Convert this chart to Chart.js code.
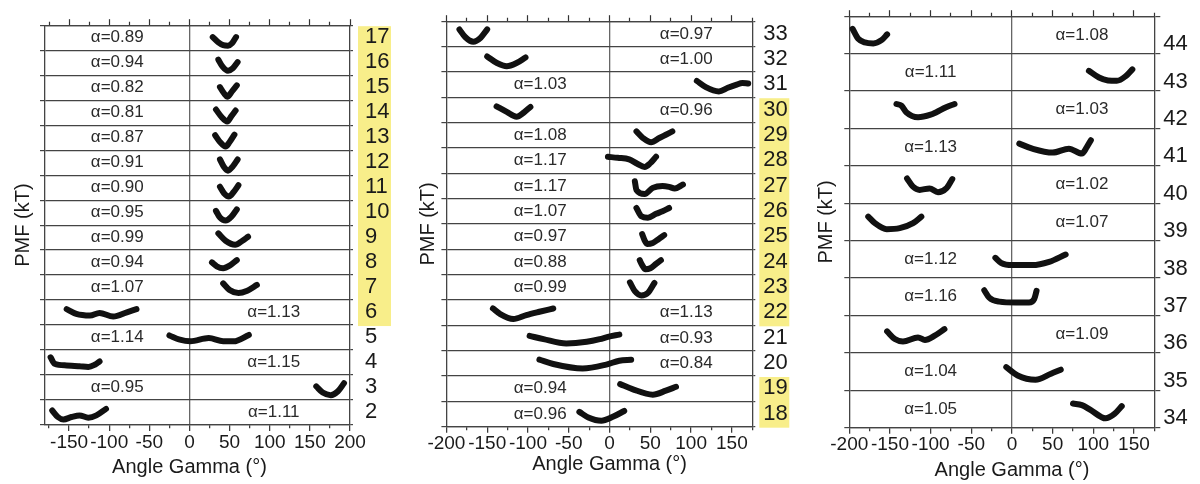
<!DOCTYPE html>
<html lang="en">
<head>
<meta charset="UTF-8">
<title>PMF vs Angle Gamma</title>
<script src="https://cdn.jsdelivr.net/npm/chart.js"></script>
<style>
  body { margin: 0; background: #fff; }
  .wrap { position: relative; width: 1200px; height: 484px; }
  .panel { position: absolute; top: 0; width: 400px; height: 484px; }
</style>
</head>
<body>
<div class="wrap">
  <div class="panel" style="left:0"><canvas id="p1"></canvas></div>
  <div class="panel" style="left:400px"><canvas id="p2"></canvas></div>
  <div class="panel" style="left:800px"><canvas id="p3"></canvas></div>
</div>
<script>
// rows are listed top -> bottom; curves are [angle (deg), PMF (kT)] above each row's baseline
const rows1 = [17, 16, 15, 14, 13, 12, 11, 10, 9, 8, 7, 6, 5, 4, 3, 2];
const alpha1 = [0.89, 0.94, 0.82, 0.81, 0.87, 0.91, 0.90, 0.95, 0.99, 0.94, 1.07, 1.13, 1.14, 1.15, 0.95, 1.11];
const side1 = ['L','L','L','L','L','L','L','L','L','L','L','R','L','R','L','R'];
const marked1 = [17, 16, 15, 14, 13, 12, 11, 10, 9, 8, 7, 6];
const curves1 = [
  [[29,1.05],[36,0.62],[42,0.40],[48,0.36],[53,0.55],[58,1.05]],
  [[36,1.24],[41,0.70],[48,0.35],[54,0.55],[60,1.04]],
  [[38,1.05],[43,0.55],[47,0.28],[53,0.70],[59,1.18]],
  [[33,1.25],[40,0.65],[47,0.29],[52,0.70],[57.5,1.17]],
  [[32,1.19],[38,0.65],[45,0.29],[50,0.65],[56,1.24]],
  [[38,1.25],[43,0.65],[48,0.36],[54,0.70],[60,1.25]],
  [[38,1.07],[43,0.55],[49,0.29],[55,0.65],[61,1.19]],
  [[33,1.14],[38,0.60],[45,0.36],[52,0.65],[59,1.26]],
  [[36,1.33],[45,0.75],[57,0.43],[66,0.75],[73,1.07]],
  [[28,1.01],[34,0.70],[42,0.55],[50,0.75],[59,1.20]],
  [[42,1.34],[50,0.80],[61,0.56],[72,0.75],[84,1.21]],
  [[-153,1.27],[-141,0.89],[-124,0.76],[-112,0.97],[-95,0.68],[-78,1.02],[-66,1.27]],
  [[-25,1.17],[-12,0.83],[1,0.70],[24,0.96],[42,0.70],[55,0.70],[74,1.21]],
  [[-173,1.41],[-168,0.90],[-153,0.77],[-137,0.70],[-126,0.64],[-118,0.82],[-112,1.08]],
  [[158,1.09],[166,0.60],[176,0.39],[185,0.70],[192.5,1.34]],
  [[-171,1.16],[-164,0.64],[-157,0.44],[-147,0.64],[-137,0.77],[-126,0.59],[-116,0.77],[-104,1.29]]
];

const rows2 = [33, 32, 31, 30, 29, 28, 27, 26, 25, 24, 23, 22, 21, 20, 19, 18];
const alpha2 = [0.97, 1.00, 1.03, 0.96, 1.08, 1.17, 1.17, 1.07, 0.97, 0.88, 0.99, 1.13, 0.93, 0.84, 0.94, 0.96];
const side2 = ['R','R','L','R','L','L','L','L','L','L','L','R','R','R','L','L'];
const marked2 = [30, 29, 28, 27, 26, 25, 24, 23, 22, 19, 18];
const curves2 = [
  [[-184,1.35],[-177,0.75],[-167,0.38],[-158,0.70],[-150,1.35]],
  [[-150,1.22],[-138,0.70],[-126,0.45],[-114,0.70],[-103,1.14]],
  [[107,1.29],[118,0.80],[134,0.46],[145,0.75],[155,0.98],[163,1.12],[170,1.08]],
  [[-138.5,1.28],[-126,0.84],[-114,0.46],[-105,0.80],[-97,1.23]],
  [[33,1.30],[41,0.78],[51,0.45],[61,0.78],[69,1.04],[77,1.30]],
  [[-2,1.30],[10,1.22],[24,1.10],[34,0.75],[43,0.50],[50,0.80],[57,1.30]],
  [[31,1.37],[33,0.67],[43,0.36],[53,0.85],[65,1.00],[73,0.93],[80,0.80],[90,1.11]],
  [[33,1.26],[39,0.61],[47,0.49],[57,0.80],[65,1.00],[73,1.26]],
  [[40,1.20],[43,0.70],[46,0.42],[53,0.50],[60,0.80],[67,1.12]],
  [[37,1.14],[40,0.75],[44,0.42],[50,0.50],[56,0.80],[63,1.14]],
  [[25,1.39],[31,0.70],[39,0.36],[47,0.56],[55,1.34]],
  [[-143,1.33],[-134,0.89],[-118,0.50],[-102,0.81],[-86,1.07],[-69,1.33]],
  [[-98,1.17],[-81,0.91],[-53,0.57],[-28,0.70],[-12,0.91],[-2,1.09],[12,1.27]],
  [[-86,1.29],[-69,0.95],[-33,0.59],[-4,0.90],[12,1.21],[26.5,1.29]],
  [[13,1.36],[28,0.97],[53,0.53],[69,0.84],[81.5,1.15]],
  [[-37,1.17],[-26,0.73],[-10,0.47],[4,0.78],[18,1.24]]
];

const rows3 = [44, 43, 42, 41, 40, 39, 38, 37, 36, 35, 34];
const alpha3 = [1.08, 1.11, 1.03, 1.13, 1.02, 1.07, 1.12, 1.16, 1.09, 1.04, 1.05];
const side3 = ['R','L','R','L','R','R','L','L','R','L','L'];
const marked3 = [];
const curves3 = [
  [[-196,1.99],[-189,1.19],[-181,0.90],[-170.5,0.82],[-160,1.10],[-153.5,1.54]],
  [[94.6,1.62],[107,1.08],[118,0.85],[129,0.82],[140,1.20],[148,1.74]],
  [[-142,1.96],[-136,1.83],[-130,1.30],[-115.5,0.90],[-100,1.10],[-93,1.30],[-81,1.70],[-70.6,1.96]],
  [[9,1.78],[25,1.38],[50,1.06],[70,1.38],[86,0.98],[92,1.50],[97,2.05]],
  [[-129,1.99],[-121.7,1.33],[-113.5,1.07],[-101.3,1.19],[-91,0.88],[-80.8,1.19],[-73.4,1.94]],
  [[-176.7,1.93],[-168.5,1.40],[-154,0.92],[-138,1.00],[-121.6,1.40],[-111.4,1.93]],
  [[-20.4,1.62],[-13.5,1.22],[0.7,1.04],[25,1.04],[45.7,1.30],[66,1.89]],
  [[-34,2.02],[-28,1.43],[-15.5,1.11],[5,1.04],[21,1.04],[27.3,1.31],[30.2,1.97]],
  [[-153.5,1.72],[-144,1.11],[-134,0.92],[-115.5,1.24],[-107,1.04],[-95,1.38],[-83,1.91]],
  [[-7,1.86],[7,1.19],[29,0.85],[48,1.33],[60,1.65]],
  [[75,1.94],[86,1.81],[97,1.41],[115,0.75],[126,1.10],[135,1.73]]
];

const FONT = "'Liberation Sans', Arial, sans-serif";
const INK = '#1a1a1a';
const LINE = '#444';
const YELLOW = '#F8EE8A';

function stepTicks(lo, hi, s) {
  const t = [];
  for (let v = Math.ceil(lo / s - 1e-9) * s; v <= hi + 1e-9; v += s) t.push({ value: v });
  return t;
}

function makePanel(id, rows, alphas, sides, marked, curves, o) {
  const n = rows.length;
  const yMax = n * o.step;

  const datasets = curves.map((c, i) => ({
    data: c.map(([a, p]) => ({ x: a, y: (n - 1 - i) * o.step + p })),
    showLine: true,
    borderColor: '#111',
    borderWidth: 6,
    borderCapStyle: 'round',
    borderJoinStyle: 'round',
    cubicInterpolationMode: 'monotone',
    pointRadius: 0
  }));

  const deco = {
    id: 'deco',
    beforeDraw(chart) {
      const { ctx, chartArea, scales } = chart;
      const y = scales.y;
      ctx.save();
      ctx.fillStyle = YELLOW;
      let i = 0;
      while (i < n) {
        if (!marked.includes(rows[i])) { i++; continue; }
        let j = i;
        while (j + 1 < n && marked.includes(rows[j + 1])) j++;
        const top = y.getPixelForValue((n - i) * o.step) + 1;
        const bot = y.getPixelForValue((n - 1 - j) * o.step) + 1;
        ctx.fillRect(chartArea.right + o.boxOff, top, o.boxW, bot - top);
        i = j + 1;
      }
      ctx.restore();
    },
    afterDraw(chart) {
      const { ctx, scales } = chart;
      const x = scales.x, y = scales.y;
      ctx.save();
      ctx.fillStyle = '#2a2a2a';
      ctx.font = '17px ' + FONT;
      ctx.textAlign = 'center';
      ctx.textBaseline = 'middle';
      alphas.forEach((a, i) => {
        const k = n - 1 - i;
        const px = x.getPixelForValue(o.labelX[sides[i]]);
        const py = y.getPixelForValue(k * o.step + o.step / 2);
        ctx.fillText('\u03b1=' + a.toFixed(2), px, py);
      });
      ctx.fillStyle = INK;
      ctx.font = '20px ' + FONT;
      ctx.fillText('Angle Gamma (\u00b0)', x.getPixelForValue(0), o.titleY);
      ctx.restore();
    }
  };

  const xTicks = s => { s.ticks = stepTicks(o.xMin, o.xMax, 25); };
  const isMinor = c => c.tick && Math.abs(c.tick.value % 50) > 1e-6;

  new Chart(document.getElementById(id), {
    type: 'scatter',
    data: { datasets },
    options: {
      responsive: true,
      maintainAspectRatio: false,
      animation: false,
      layout: { padding: 0 },
      plugins: { legend: { display: false }, tooltip: { enabled: false } },
      scales: {
        x: {
          type: 'linear', position: 'bottom', min: o.xMin, max: o.xMax,
          afterBuildTicks: xTicks,
          afterFit: s => { s.height = o.xH; },
          border: { display: true, color: LINE, width: 1.3 },
          grid: {
            drawOnChartArea: true,
            color: c => (c.tick && c.tick.value === 0) ? '#666' : 'rgba(0,0,0,0)',
            lineWidth: 1.3,
            tickLength: 6,
            tickColor: '#333',
            tickWidth: 1.2,
            tickBorderDash: c => isMinor(c) ? [3, 20] : []
          },
          ticks: {
            autoSkip: false, maxRotation: 0, minRotation: 0, padding: 0,
            color: INK, font: { family: FONT, size: 19 },
            callback: v => (Math.abs(v % 50) < 1e-6 ? String(v) : '')
          }
        },
        x2: {
          type: 'linear', position: 'top', min: o.xMin, max: o.xMax,
          afterBuildTicks: xTicks,
          afterFit: s => { s.height = o.x2H; },
          border: { display: true, color: LINE, width: 1.3 },
          grid: {
            drawOnChartArea: false,
            tickLength: 6,
            tickColor: '#333',
            tickWidth: 1.2,
            tickBorderDash: c => isMinor(c) ? [0, 2.6, 10] : []
          },
          ticks: { display: false }
        },
        y: {
          type: 'linear', position: 'left', min: 0, max: yMax,
          afterBuildTicks: s => { s.ticks = stepTicks(0, yMax, o.step); },
          afterFit: s => { s.width = o.yW; },
          border: { display: true, color: LINE, width: 1.3 },
          grid: { drawOnChartArea: true, color: LINE, lineWidth: 1.2, tickLength: 5 },
          ticks: { display: false },
          title: {
            display: true, text: 'PMF (kT)', color: INK,
            font: { family: FONT, size: 20 }, padding: { top: o.yTitlePad, bottom: 0 }
          }
        },
        y2: {
          type: 'linear', position: 'right', min: 0, max: yMax,
          afterBuildTicks: s => { s.ticks = stepTicks(0, yMax, o.step); },
          afterFit: s => { s.width = o.y2W; },
          border: { display: true, color: LINE, width: 1.3 },
          grid: { drawOnChartArea: false, color: LINE, lineWidth: 1.2, tickLength: o.rightTick },
          ticks: {
            autoSkip: false, padding: o.rightPad, labelOffset: o.labelOffset,
            color: INK, font: { family: FONT, size: 22 },
            callback: (v, i) => (i < n ? String(rows[n - 1 - i]) : '')
          }
        }
      }
    },
    plugins: [deco]
  });
}

makePanel('p1', rows1, alpha1, side1, marked1, curves1, {
  xMin: -180, xMax: 200, step: 2,
  yW: 45, y2W: 50, x2H: 11, xH: 59,
  yTitlePad: 11, titleY: 467,
  labelX: { L: -90, R: 105 },
  rightTick: 3, rightPad: 12, labelOffset: -12.9,
  boxOff: 8, boxW: 33
});
makePanel('p2', rows2, alpha2, side2, marked2, curves2, {
  xMin: -200, xMax: 175, step: 2,
  yW: 46.4, y2W: 47.7, x2H: 12.3, xH: 57.3,
  yTitlePad: 16, titleY: 464,
  labelX: { L: -85, R: 94 },
  rightTick: 3, rightPad: 8, labelOffset: -12.95,
  boxOff: 7, boxW: 30
});
makePanel('p3', rows3, alpha3, side3, marked3, curves3, {
  xMin: -200, xMax: 175, step: 3,
  yW: 49.3, y2W: 45.7, x2H: 13.3, xH: 56.3,
  yTitlePad: 14, titleY: 470,
  labelX: { L: -100, R: 86 },
  rightTick: 6, rightPad: 3, labelOffset: -9.5,
  boxOff: 0, boxW: 0
});
</script>
</body>
</html>
